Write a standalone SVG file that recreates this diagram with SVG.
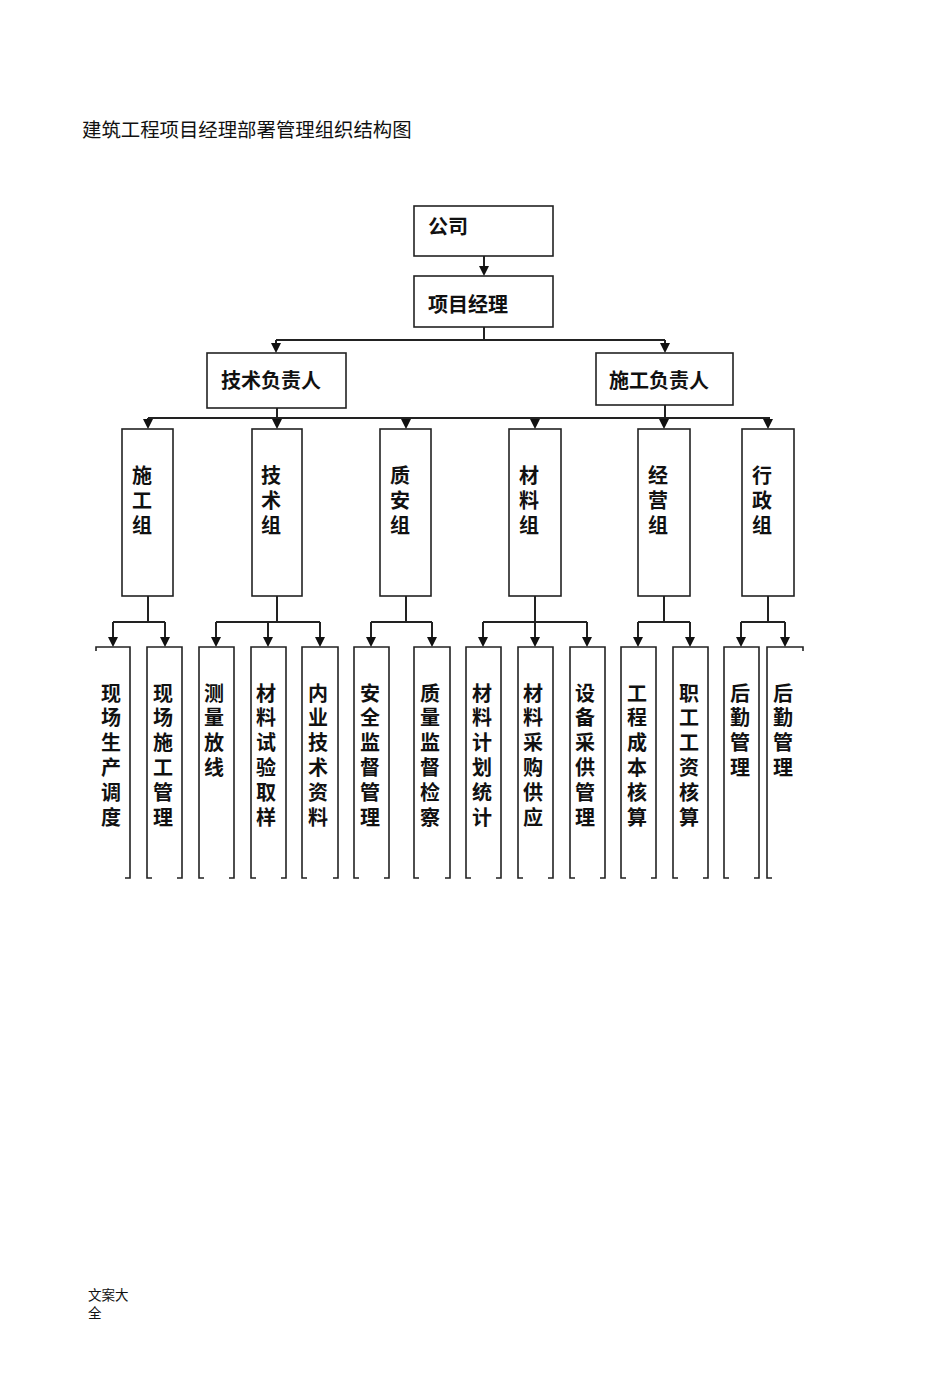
<svg xmlns="http://www.w3.org/2000/svg" width="950" height="1381" viewBox="0 0 950 1381">
<defs>
<style>
.box{fill:#fff;stroke:#222;stroke-width:1.6}
.ob{fill:none;stroke:#222;stroke-width:1.6}
.ln{fill:none;stroke:#222;stroke-width:2}
.ar{fill:#111}
.t{font-family:"Noto Sans CJK SC","Noto Sans CJK JP",sans-serif;font-size:20px;font-weight:bold;fill:#111}
.v{font-family:"Noto Sans CJK SC","Noto Sans CJK JP",sans-serif;font-size:20px;font-weight:bold;fill:#111;writing-mode:vertical-rl;letter-spacing:4.8px}
.m{font-family:"Noto Sans CJK SC","Noto Sans CJK JP",sans-serif;font-size:20px;font-weight:bold;fill:#111;writing-mode:vertical-rl;letter-spacing:5px}
.title{font-family:"Noto Sans CJK SC","Noto Sans CJK JP",sans-serif;font-size:19.4px;fill:#111}
.foot{font-family:"Noto Sans CJK SC","Noto Sans CJK JP",sans-serif;font-size:13.5px;fill:#111}
</style>
</defs>
<rect width="950" height="1381" fill="#fff"/>
<text class="title" x="82" y="137">建筑工程项目经理部署管理组织结构图</text>

<g id="connectors">
<path class="ln" d="M484,256 V267"/>
<path class="ar" d="M479,266 H489 L484,276 Z"/>
<path class="ln" d="M484,327 V340 M276,340 H665 M276,340 V344 M665,340 V344"/>
<path class="ar" d="M271,343 H281 L276,353 Z M660,343 H670 L665,353 Z"/>
<path class="ln" d="M277,408 V418 M665,405 V418 M148,418 H770 M148,418 V420 M277,418 V420 M406,418 V420 M535,418 V420 M664,418 V420 M768,418 V420"/>
<path class="ar" d="M143,419 H153 L148,429 Z M272,419 H282 L277,429 Z M401,419 H411 L406,429 Z M530,419 H540 L535,429 Z M659,419 H669 L664,429 Z M763,419 H773 L768,429 Z"/>
<path class="ln" d="M148,596 V622 M113,622 H165 M113,622 V638 M165,622 V638"/>
<path class="ln" d="M277,596 V622 M216,622 H320 M216,622 V638 M268,622 V638 M320,622 V638"/>
<path class="ln" d="M406,596 V622 M371,622 H432 M371,622 V638 M432,622 V638"/>
<path class="ln" d="M535,596 V622 M483,622 H587 M483,622 V638 M535,622 V638 M587,622 V638"/>
<path class="ln" d="M664,596 V622 M638,622 H690 M638,622 V638 M690,622 V638"/>
<path class="ln" d="M768,596 V622 M741,622 H785 M741,622 V638 M785,622 V638"/>
<path class="ar" d="M108,637 H118 L113,647 Z M160,637 H170 L165,647 Z M211,637 H221 L216,647 Z M263,637 H273 L268,647 Z M315,637 H325 L320,647 Z M366,637 H376 L371,647 Z M427,637 H437 L432,647 Z M478,637 H488 L483,647 Z M530,637 H540 L535,647 Z M582,637 H592 L587,647 Z M633,637 H643 L638,647 Z M685,637 H695 L690,647 Z M736,637 H746 L741,647 Z M780,637 H790 L785,647 Z"/>
</g>

<g id="company"><rect class="box" x="414" y="206" width="139" height="50"/><text class="t" x="428" y="234">公司</text></g>
<g id="pm"><rect class="box" x="414" y="276" width="139" height="51"/><text class="t" x="428" y="312">项目经理</text></g>
<g id="tech-lead"><rect class="box" x="207" y="353" width="139" height="55"/><text class="t" x="221" y="388">技术负责人</text></g>
<g id="const-lead"><rect class="box" x="596" y="353" width="137" height="52"/><text class="t" x="609" y="388">施工负责人</text></g>

<g id="g1"><rect class="box" x="122" y="429" width="51" height="167"/><text class="m" x="142" y="465">施工组</text></g>
<g id="g2"><rect class="box" x="252" y="429" width="50" height="167"/><text class="m" x="271" y="465">技术组</text></g>
<g id="g3"><rect class="box" x="380" y="429" width="51" height="167"/><text class="m" x="400" y="465">质安组</text></g>
<g id="g4"><rect class="box" x="509" y="429" width="52" height="167"/><text class="m" x="529" y="465">材料组</text></g>
<g id="g5"><rect class="box" x="638" y="429" width="52" height="167"/><text class="m" x="658" y="465">经营组</text></g>
<g id="g6"><rect class="box" x="742" y="429" width="52" height="167"/><text class="m" x="762" y="465">行政组</text></g>

<g id="b1"><path class="ob" d="M96,651 V647 H130 V878 H125"/><text class="v" x="111" y="683">现场生产调度</text></g>
<g id="b2"><path class="ob" d="M152,878 H147 V647 H182 V878 H177"/><text class="v" x="163" y="683">现场施工管理</text></g>
<g id="b3"><path class="ob" d="M204,878 H199 V647 H234 V878 H229"/><text class="v" x="214" y="683">测量放线</text></g>
<g id="b4"><path class="ob" d="M256,878 H251 V647 H286 V878 H281"/><text class="v" x="266" y="683">材料试验取样</text></g>
<g id="b5"><path class="ob" d="M307,878 H302 V647 H338 V878 H333"/><text class="v" x="318" y="683">内业技术资料</text></g>
<g id="b6"><path class="ob" d="M359,878 H354 V647 H389 V878 H384"/><text class="v" x="370" y="683">安全监督管理</text></g>
<g id="b7"><path class="ob" d="M419,878 H414 V647 H450 V878 H445"/><text class="v" x="430" y="683">质量监督检察</text></g>
<g id="b8"><path class="ob" d="M471,878 H466 V647 H501 V878 H496"/><text class="v" x="482" y="683">材料计划统计</text></g>
<g id="b9"><path class="ob" d="M523,878 H518 V647 H553 V878 H548"/><text class="v" x="533" y="683">材料采购供应</text></g>
<g id="b10"><path class="ob" d="M575,878 H570 V647 H605 V878 H600"/><text class="v" x="585" y="683">设备采供管理</text></g>
<g id="b11"><path class="ob" d="M626,878 H621 V647 H656 V878 H651"/><text class="v" x="637" y="683">工程成本核算</text></g>
<g id="b12"><path class="ob" d="M678,878 H673 V647 H708 V878 H703"/><text class="v" x="689" y="683">职工工资核算</text></g>
<g id="b13"><path class="ob" d="M729,878 H724 V647 H759 V878 H754"/><text class="v" x="740" y="683">后勤管理</text></g>
<g id="b14"><path class="ob" d="M772,878 H767 V647 H803 V651"/><text class="v" x="783" y="683">后勤管理</text></g>

<text class="foot" x="88" y="1300">文案大</text>
<text class="foot" x="88" y="1318">全</text>
</svg>
